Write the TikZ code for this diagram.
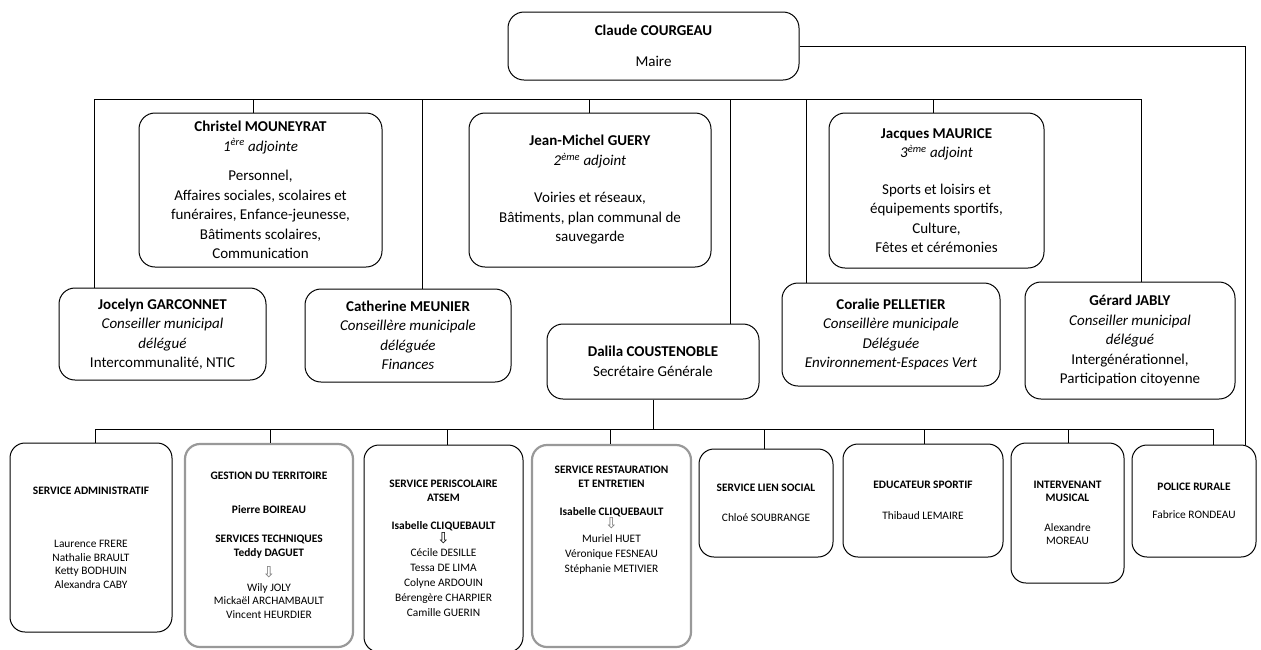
\documentclass[tikz,border=0pt]{standalone}
\usepackage{fontspec}
\setmainfont{Carlito}
\newfontfamily\flechefont{DejaVu Sans}
\newcommand{\fleche}{{\flechefont\fontsize{15}{11}\selectfont ⇩}}

\begin{document}
\begin{tikzpicture}[x=1pt,y=-1pt,
    elu/.style={draw, line width=1pt, rounded corners=16pt, align=center, inner sep=0pt,
      font=\fontsize{15}{19.5}\selectfont},
    service/.style={draw, line width=1pt, rounded corners=15pt, align=center, inner sep=0pt,
      font=\fontsize{11.4}{13.5}\selectfont},
    flou/.style={draw=black!40, line width=2.2pt},
    lien/.style={line width=0.8pt}]
  \useasboundingbox (0,0) rectangle (1261,649);

  % Maire
  \node[elu, minimum width=291pt, minimum height=68pt] (maire) at (653.5,46)
    {\textbf{Claude COURGEAU}\\[11pt] Maire};

  % Adjoints
  \node[elu, minimum width=243pt, minimum height=154pt] (christel) at (260.5,190)
    {\textbf{Christel MOUNEYRAT}\\ \textit{1\textsuperscript{ère} adjointe}\\[10pt]
     Personnel,\\ Affaires sociales, scolaires et\\ funéraires, Enfance-jeunesse,\\
     Bâtiments scolaires,\\ Communication};
  \node[elu, minimum width=242pt, minimum height=154pt] (jeanmichel) at (590,190)
    {\textbf{Jean-Michel GUERY}\\ \textit{2\textsuperscript{ème} adjoint}\\[18pt]
     Voiries et réseaux,\\ Bâtiments, plan communal de\\ sauvegarde};
  \node[elu, minimum width=215pt, minimum height=155pt] (jacques) at (936.5,190.5)
    {\textbf{Jacques MAURICE}\\ \textit{3\textsuperscript{ème} adjoint}\\[17pt]
     Sports et loisirs et\\ équipements sportifs,\\ Culture,\\ Fêtes et cérémonies};

  % Conseillers delegues
  \node[elu, minimum width=207pt, minimum height=92pt] (jocelyn) at (162.5,334)
    {\textbf{Jocelyn GARCONNET}\\ \textit{Conseiller municipal}\\ \textit{délégué}\\
     Intercommunalité, NTIC};
  \node[elu, minimum width=206pt, minimum height=93pt] (catherine) at (408,335.5)
    {\textbf{Catherine MEUNIER}\\ \textit{Conseillère municipale}\\ \textit{déléguée}\\
     \textit{Finances}};
  \node[elu, minimum width=212pt, minimum height=75pt] (dalila) at (653,361.5)
    {\textbf{Dalila COUSTENOBLE}\\ Secrétaire Générale};
  \node[elu, minimum width=218pt, minimum height=103pt] (coralie) at (891,334.5)
    {\textbf{Coralie PELLETIER}\\ \textit{Conseillère municipale}\\ \textit{Déléguée}\\
     \textit{Environnement-Espaces Vert}};
  \node[elu, minimum width=210pt, minimum height=117pt] (gerard) at (1130,340.5)
    {\textbf{Gérard JABLY}\\ \textit{Conseiller municipal}\\ \textit{délégué}\\
     Intergénérationnel,\\ Participation citoyenne};

  % Services
  \node[service, minimum width=162pt, minimum height=189pt] (admin) at (91,537.5)
    {\textbf{SERVICE ADMINISTRATIF}\\[40pt] Laurence FRERE\\ Nathalie BRAULT\\
     Ketty BODHUIN\\ Alexandra CABY};
  \node[service, flou, minimum width=168pt, minimum height=203pt] (territoire) at (269,545.5)
    {\textbf{GESTION DU TERRITOIRE}\\[20pt] \textbf{Pierre BOIREAU}\\[16pt]
     \textbf{SERVICES TECHNIQUES}\\ \textbf{Teddy DAGUET}\\[8pt]
     {\color{black!55}\fleche}\\ Wily JOLY\\ Mickaël ARCHAMBAULT\\ Vincent HEURDIER};
  \node[service, minimum width=159pt, minimum height=207pt] (periscolaire) at (443.5,548.5)
    {\textbf{SERVICE PERISCOLAIRE}\\ \textbf{ATSEM}\\[15pt] \textbf{Isabelle CLIQUEBAULT}\\
     \fleche\\ Cécile DESILLE\\[1.5pt] Tessa DE LIMA\\[1.5pt] Colyne ARDOUIN\\[1.5pt]
     Bérengère CHARPIER\\[1.5pt] Camille GUERIN};
  \node[service, flou, minimum width=159pt, minimum height=202pt] (restauration) at (611.5,546)
    {\textbf{SERVICE RESTAURATION}\\ \textbf{ET ENTRETIEN}\\[15pt] \textbf{Isabelle CLIQUEBAULT}\\
     {\color{black!55}\fleche}\\ Muriel HUET\\[1.5pt] Véronique FESNEAU\\[1.5pt]
     Stéphanie METIVIER\\[40pt]\mbox{}};
  \node[service, minimum width=134pt, minimum height=108pt] (liensocial) at (766,503)
    {\textbf{SERVICE LIEN SOCIAL}\\[16pt] Chloé SOUBRANGE};
  \node[service, minimum width=160pt, minimum height=113pt] (educateur) at (923,500.5)
    {\textbf{EDUCATEUR SPORTIF}\\[17pt] Thibaud LEMAIRE};
  \node[service, minimum width=113pt, minimum height=140pt] (musical) at (1067.5,513)
    {\textbf{INTERVENANT}\\ \textbf{MUSICAL}\\[16pt] Alexandre\\ MOREAU};
  \node[service, minimum width=124pt, minimum height=112pt] (police) at (1194,501)
    {\textbf{POLICE RURALE}\\[15pt] Fabrice RONDEAU};

  % Connectors, upper level
  \coordinate (bg) at (94,99);
  \coordinate (bd) at (1141,99);
  \draw[lien] (bg) -- (bd);
  \draw[lien] (bg) -- (bg |- jocelyn.north);
  \draw[lien] (bd) -- (bd |- gerard.north);
  \foreach \xb/\cible in {253/christel, 422/catherine, 589/jeanmichel, 730/dalila,
                          806/coralie, 933/jacques}
    \draw[lien] (\xb,99) -- (\xb,99 |- \cible.north);

  % Maire to police rurale
  \coordinate (angle) at (1245,46);
  \draw[lien] (maire.east) -- (angle) -- (angle |- police.north);

  % Connectors, services
  \coordinate (sg) at (95,429);
  \coordinate (sd) at (1213,429);
  \draw[lien] (sg) -- (sd);
  \draw[lien] (dalila.south) -- (dalila.south |- sg);
  \draw[lien] (sg) -- (sg |- admin.north);
  \draw[lien] (sd) -- (sd |- police.north);
  \foreach \xs/\cible in {270/territoire, 447/periscolaire, 610/restauration,
                          764/liensocial, 924/educateur, 1068/musical}
    \draw[lien] (\xs,429) -- (\xs,429 |- \cible.north);
\end{tikzpicture}
\end{document}
